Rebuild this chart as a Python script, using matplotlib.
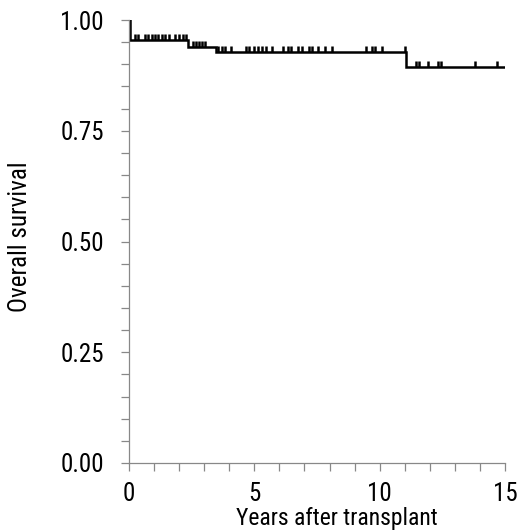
import numpy as np
import matplotlib
matplotlib.use("Agg")
import matplotlib.pyplot as plt
from matplotlib.ticker import MultipleLocator, FormatStrFormatter
from matplotlib.path import Path

plt.rcParams['font.family'] = ['Roboto Condensed', 'Arial Narrow', 'Roboto']
plt.rcParams['font.stretch'] = 'condensed'

# Kaplan-Meier steps (time in years, survival after the step)
step_times = [0.0, 0.05, 2.35, 3.47, 11.05]
step_surv = [1.00, 0.955, 0.939, 0.928, 0.894]
end_time = 14.95

# censored observations (years)
censor_times = [0.24, 0.36, 0.64, 0.76, 0.92, 1.04, 1.16, 1.32, 1.44, 1.60, 1.84, 2.00, 2.15, 2.27,
                2.55, 2.67, 2.79, 2.91, 3.03,
                3.55, 3.71, 3.83, 4.07, 4.67, 4.79, 4.99, 5.15, 5.31, 5.47, 5.70, 6.14, 6.34,
                6.46, 6.74, 6.90, 7.18, 7.30, 7.54, 7.82, 8.10, 9.45, 9.69, 9.81, 10.09, 11.00,
                11.45, 11.57, 11.93, 12.33, 12.45, 13.80, 14.68]

x_ticks = [0, 5, 10, 15]
y_ticks = [0.00, 0.25, 0.50, 0.75, 1.00]

fig = plt.figure(figsize=(5.29, 5.30), dpi=100)
ax = fig.add_axes([129 / 529, 67 / 530, 376 / 529, 443 / 530])

xs = list(step_times) + [end_time]
ys = list(step_surv) + [step_surv[-1]]
ax.step(xs, ys, where='post', color='black', lw=1.8, solid_joinstyle='miter')

# survival at each censor time, read from the step function
idx = np.searchsorted(step_times, censor_times, side='right') - 1
cens_y = np.array(step_surv)[idx]
up_tick = Path([(0, 0), (0, 1)], [Path.MOVETO, Path.LINETO])
ax.plot(censor_times, cens_y, ls='none', marker=up_tick, markersize=9,
        markeredgewidth=1.8, color='black')

ax.set_xlim(0, 15)
ax.set_ylim(0, 1)
ax.set_xticks(x_ticks)
ax.set_yticks(y_ticks)
ax.yaxis.set_major_formatter(FormatStrFormatter('%.2f'))
ax.xaxis.set_minor_locator(MultipleLocator(1))
ax.yaxis.set_minor_locator(MultipleLocator(0.05))

for s in ['top', 'right']:
    ax.spines[s].set_visible(False)
for s in ['left', 'bottom']:
    ax.spines[s].set_color('#888888')
    ax.spines[s].set_linewidth(0.9)

ax.tick_params(which='both', direction='out', color='#888888', width=0.9, length=6)
ax.tick_params(axis='x', which='major', labelsize=18, pad=8)
ax.tick_params(axis='y', which='major', labelsize=18, pad=12)

ax.set_xlabel('Years after transplant', fontsize=17)
ax.xaxis.set_label_coords(0.553, -0.100)
ax.set_ylabel('Overall survival', fontsize=18)
ax.yaxis.set_label_coords(-0.258, 0.51)

fig.savefig('out.png', dpi=100)
